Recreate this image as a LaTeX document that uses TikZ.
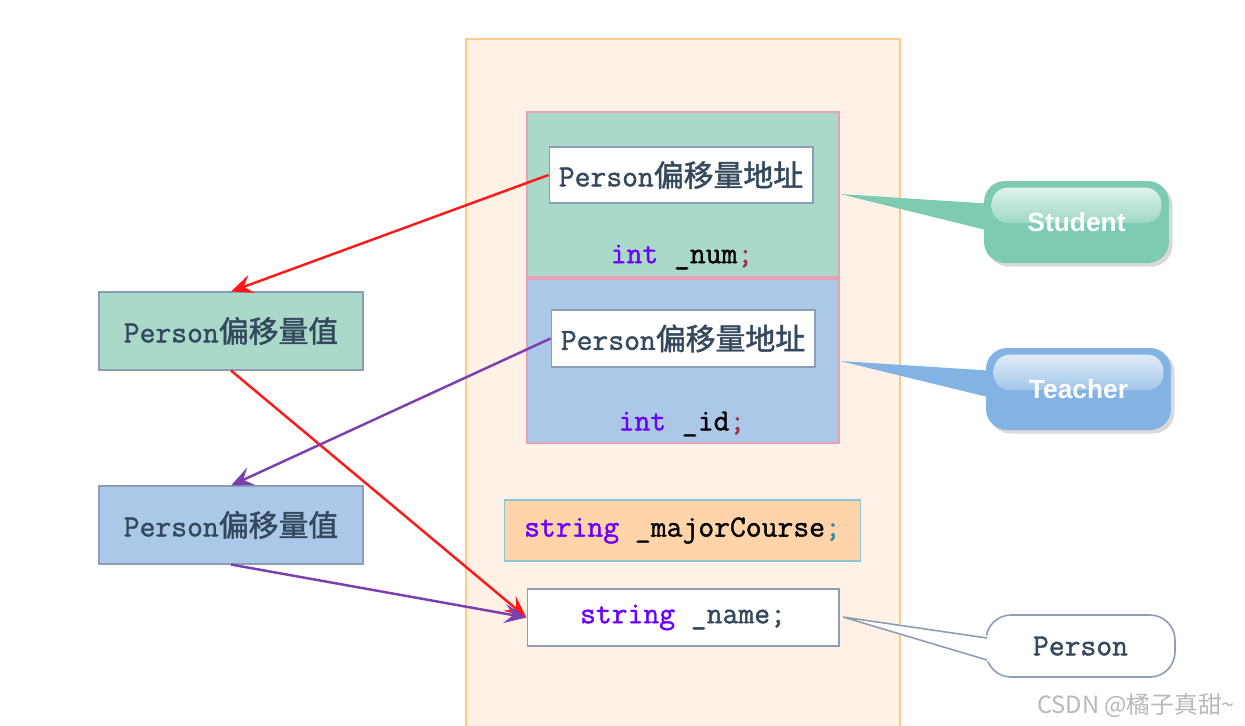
\documentclass[tikz,border=0pt]{standalone}
\usepackage{fontspec}
\setmainfont{Latin Modern Mono}[FakeBold=1.3]
\newfontfamily\cjk{Noto Sans CJK SC}
\newfontfamily\cjkcode{Noto Sans CJK SC}[FakeBold=1.6]
\newfontfamily\tagfont{Liberation Sans}
\usepackage{tikz}
\usetikzlibrary{arrows.meta,calc,shadows}
\usepackage{xcolor}
\definecolor{MemPeach}{HTML}{FFF1E5}
\definecolor{MemEdge}{HTML}{FFC98F}
\definecolor{StuGreen}{HTML}{AAD9CA}
\definecolor{TeaBlue}{HTML}{ABC8E9}
\definecolor{BlockPink}{HTML}{E8A0B4}
\definecolor{MajorOrange}{HTML}{FFD4A8}
\definecolor{MajorEdge}{HTML}{8EC5D6}
\definecolor{BoxGray}{HTML}{8C9DB4}
\definecolor{Slate}{HTML}{34495E}
\definecolor{KeyPurple}{HTML}{6B00FF}
\definecolor{SemiRed}{HTML}{A0304A}
\definecolor{SemiTeal}{HTML}{2E8CA8}
\definecolor{TagGreen}{HTML}{7ECBB3}
\definecolor{TagBlue}{HTML}{83B3E2}
\definecolor{ArrowRed}{HTML}{FF1A1A}
\definecolor{ArrowPurple}{HTML}{7B3FB0}

\newcommand\kw[1]{\textcolor{KeyPurple}{#1}}
\newcommand\cn[1]{{\cjkcode\fontsize{17}{19}\selectfont #1}}

\begin{document}
\begin{tikzpicture}[x=0.02cm,y=-0.02cm,>={Stealth[length=4.4mm,width=3.8mm,inset=1.7mm]},
    code/.style={font=\fontsize{17.5}{19}\selectfont,text=Slate,inner sep=0pt},
    block/.style={draw=BlockPink,line width=0.7pt,minimum width=6.24cm,inner sep=0pt},
    cell/.style={code,draw=BoxGray,line width=0.6pt,fill=white,minimum width=5.28cm},
    tag/.style={rounded corners=0.42cm,minimum width=3.7cm,minimum height=1.64cm,
        drop shadow={opacity=0.3,shadow xshift=2pt,shadow yshift=-2pt}},
    tagtext/.style={text=white,font=\tagfont\bfseries\fontsize{15}{18}\selectfont},
    link/.style={->,line width=1.4pt}]
  \useasboundingbox (0,0) rectangle (1245,725);

  % memory of the Student object
  \node[draw=MemEdge,fill=MemPeach,line width=0.8pt,minimum width=8.68cm,
        minimum height=13.8cm,inner sep=0pt] (mem) at (683,384) {};

  % Student part
  \node[block,fill=StuGreen,minimum height=3.3cm] (stublock) at (683,194.5) {};
  \node[cell,minimum height=1.12cm] (addr1) at (681,175) {Person\cn{偏移量地址}};
  \node[code,text=black] (num) at (682,257) {\kw{int} \_num\textcolor{SemiRed}{;}};

  % Teacher part
  \node[block,fill=TeaBlue,minimum height=3.28cm] (teablock) at (683,361) {};
  \node[cell,minimum height=1.14cm] (addr2) at (683,338.5) {Person\cn{偏移量地址}};
  \node[code,text=black] (id) at (682,424) {\kw{int} \_id\textcolor{SemiRed}{;}};

  % own member and Person part
  \node[code,text=black,draw=MajorEdge,fill=MajorOrange,line width=0.6pt,
        minimum width=7.14cm,minimum height=1.22cm] (major) at (682.5,530.5)
        {\kw{string} \_majorCourse\textcolor{SemiTeal}{;}};
  \node[cell,minimum width=6.24cm,minimum height=1.14cm] (name) at (683,617.5)
        {\kw{string} \_name;};

  % offset values
  \node[cell,fill=StuGreen,minimum height=1.56cm] (val1) at (231,331) {Person\cn{偏移量值}};
  \node[cell,fill=TeaBlue,minimum height=1.56cm] (val2) at (231,525) {Person\cn{偏移量值}};

  % pointers
  \draw[link,ArrowRed] (addr1.west) -- (val1.north);
  \draw[link,ArrowRed] (val1.south) -- (name.west);
  \draw[link,ArrowPurple] (addr2.west) -- (val2.north);
  \draw[link,ArrowPurple] (val2.south) -- (name.west);

  % callouts
  \fill[TagGreen] (840,194) -- (994,204) -- (994,232) -- cycle;
  \node[tag,fill=TagGreen] (stutag) at (1076.5,222) {};
  \shade[top color=white!75!TagGreen,bottom color=white!25!TagGreen,rounded corners=0.32cm]
       ($(stutag.north west)+(8,7)$) rectangle ($(stutag.east)+(-8,1)$);
  \node[tagtext] at (stutag.center) {Student};

  \fill[TagBlue] (840,361) -- (996,371) -- (996,399) -- cycle;
  \node[tag,fill=TagBlue] (teatag) at (1078.5,389) {};
  \shade[top color=white!75!TagBlue,bottom color=white!25!TagBlue,rounded corners=0.32cm]
       ($(teatag.north west)+(8,7)$) rectangle ($(teatag.east)+(-8,1)$);
  \node[tagtext] at (teatag.center) {Teacher};

  \node[code,draw=BoxGray,line width=0.9pt,fill=white,rounded corners=0.5cm,
        minimum width=3.78cm,minimum height=1.24cm] (pertag) at (1080.5,646) {Person};
  \fill[white] (843,617) -- (990,636) -- (990,662) -- cycle;
  \draw[BoxGray,line width=0.9pt] (987,638) -- (843,617) -- (987,660);

  % watermark
  \node[text=black!28,font=\cjk\fontsize{13.5}{16}\selectfont] (mark) at (1136,706)
       {CSDN @橘子真甜\textasciitilde};
\end{tikzpicture}
\end{document}
